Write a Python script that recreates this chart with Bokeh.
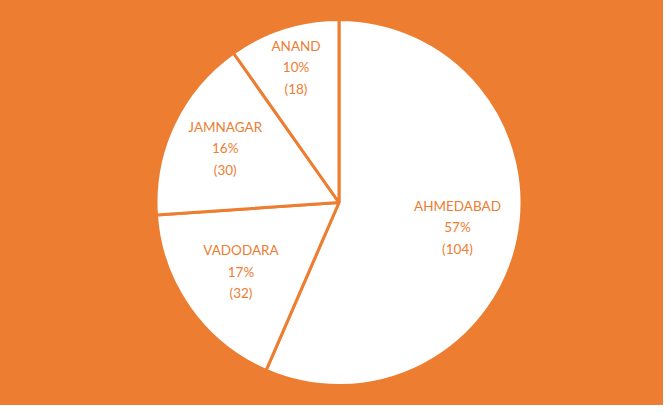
import numpy as np
from bokeh.plotting import figure
from bokeh.models import ColumnDataSource, Range1d
from bokeh.core.properties import value
from bokeh.embed import file_html
from bokeh.resources import INLINE

categories = ["AHMEDABAD", "VADODARA", "JAMNAGAR", "ANAND"]
counts = [104, 32, 30, 18]
percent_labels = ["57%", "17%", "16%", "10%"]

ORANGE = "#ED7D31"

# figure occupies page pixels left..671, top..413
left, top = 5, 4
W, H = 671 - left, 413 - top
cx, cy = 346.5, 210.0  # pie centre in page pixels
p = figure(width=W, height=H, output_backend="svg", toolbar_location=None,
           x_range=Range1d(left - cx, left + W - cx),
           y_range=Range1d(cy - top - H, cy - top),
           min_border=0)
p.styles = {"margin-left": f"{left - 8}px", "margin-top": f"{top - 8}px"}
p.axis.visible = False
p.grid.visible = False
p.outline_line_color = None
p.background_fill_color = ORANGE
p.border_fill_color = ORANGE

vals = np.array(counts, dtype=float)
frac = vals / vals.sum()
cum = np.concatenate([[0], np.cumsum(frac)]) * 2 * np.pi  # clockwise from top
start = np.pi / 2 - cum[1:]
end = np.pi / 2 - cum[:-1]
src = ColumnDataSource(dict(start=start, end=end, cat=categories))
p.wedge(x=0, y=0, radius=183, start_angle="start", end_angle="end",
        direction="anticlock", fill_color="white", line_color=ORANGE,
        line_width=3, source=src)

# label placement along mid-angle
label_r = [121, 120, 126, 142]
mid = (cum[:-1] + cum[1:]) / 2
xs, ys, txt = [], [], []
for i, c in enumerate(categories):
    lx = label_r[i] * np.sin(mid[i])
    ly = label_r[i] * np.cos(mid[i])
    lines = [c, percent_labels[i], f"({counts[i]})"]
    for j, t in enumerate(lines):
        xs.append(lx)
        ys.append(ly + (1 - j) * 21.5)
        txt.append(t)
lsrc = ColumnDataSource(dict(x=xs, y=ys, t=txt))
p.text(x="x", y="y", text="t", source=lsrc, text_color=ORANGE,
       text_font=value("Lato"), text_font_size="13.5px",
       text_align="center", text_baseline="middle")

open("out.html", "w").write(file_html(p, INLINE))
